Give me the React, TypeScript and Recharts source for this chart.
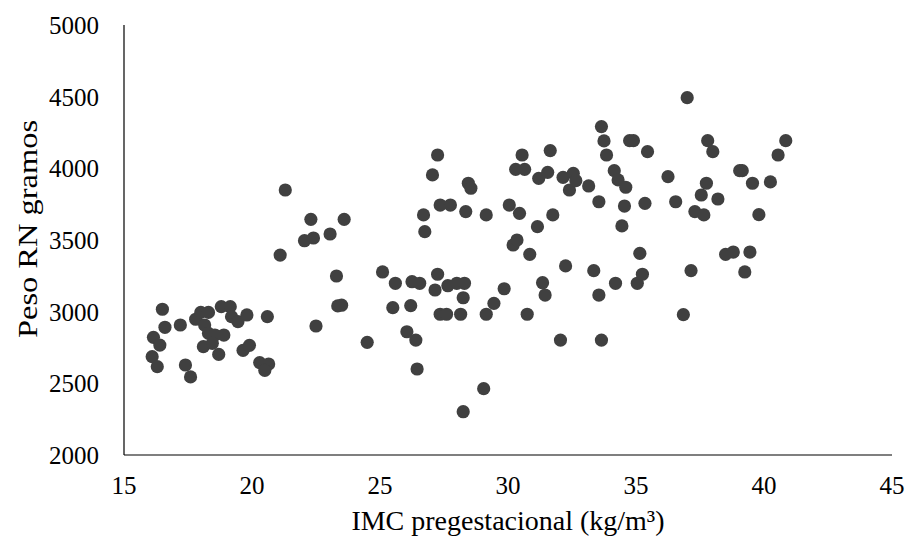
import React from "react";
import { ScatterChart, Scatter, XAxis, YAxis, Label } from "recharts";

const imcValues: number[] = [
  16.1, 16.15, 16.3, 16.4, 16.5, 16.6, 17.2, 17.4, 17.6, 17.8,
  18.0, 18.3, 18.15, 18.3, 18.55, 18.9, 18.1, 18.45, 18.7, 18.8,
  19.15, 19.2, 19.45, 19.8, 19.65, 19.9, 20.3, 20.65, 20.5, 20.6,
  21.1, 21.3, 22.05, 22.3, 22.4, 22.5, 23.05, 23.3, 23.35, 23.5,
  23.6, 24.5, 25.1, 25.5, 25.6, 26.05, 26.2, 26.25, 26.4, 26.45,
  26.55, 26.7, 26.75, 27.05, 27.15, 27.25, 27.25, 27.35, 27.35, 27.6,
  27.65, 27.75, 28.0, 28.15, 28.25, 28.25, 28.3, 28.35, 28.45, 28.55,
  29.05, 29.15, 29.15, 29.45, 29.85, 30.05, 30.2, 30.3, 30.35, 30.45,
  30.55, 30.65, 30.75, 30.85, 31.15, 31.2, 31.35, 31.45, 31.55, 31.65,
  31.75, 32.05, 32.15, 32.25, 32.4, 32.55, 32.65, 33.15, 33.35, 33.55,
  33.55, 33.65, 33.65, 33.75, 33.85, 34.15, 34.2, 34.3, 34.45, 34.55,
  34.6, 34.75, 34.9, 35.05, 35.15, 35.25, 35.35, 35.45, 36.25, 36.55,
  36.85, 37.0, 37.15, 37.3, 37.55, 37.65, 37.75, 37.8, 38.0, 38.2,
  38.5, 38.8, 39.05, 39.15, 39.25, 39.45, 39.55, 39.8, 40.25, 40.55,
  40.85,
];

const pesoValues: number[] = [
  2686, 2821, 2616, 2767, 3017, 2891, 2907, 2628, 2545, 2947,
  2995, 2995, 2907, 2849, 2837, 2837, 2756, 2779, 2702, 3035,
  3035, 2965, 2930, 2977, 2730, 2765, 2645, 2635, 2590, 2965,
  3395, 3849, 3495, 3644, 3514, 2900, 3542, 3249, 3040, 3045,
  3644, 2786, 3277, 3028, 3198, 2860, 3042, 3209, 2802, 2600,
  3198, 3675, 3558, 3954, 3151, 4093, 3261, 3744, 2982, 2982,
  3181, 3744, 3198, 2982, 3097, 2302, 3198, 3698, 3896, 3861,
  2463, 3675, 2982, 3058, 3160, 3744, 3465, 3993, 3500, 3686,
  4093, 3993, 2982, 3400, 3593, 3930, 3202, 3116, 3972, 4124,
  3675, 2802, 3937, 3319, 3849, 3965, 3914, 3877, 3286, 3767,
  3116, 4291, 2802, 4191, 4093, 3984, 3198, 3919, 3598, 3737,
  3868, 4193, 4193, 3198, 3407, 3261, 3756, 4116, 3942, 3767,
  2979, 4493, 3286, 3698, 3814, 3675, 3896, 4193, 4116, 3786,
  3400, 3416, 3984, 3984, 3277, 3416, 3896, 3677, 3905, 4093,
  4193,
];

const xTicks: number[] = [15, 20, 25, 30, 35, 40, 45];
const yTicks: number[] = [2000, 2500, 3000, 3500, 4000, 4500, 5000];
const xTitle = "IMC pregestacional (kg/m³)";
const yTitle = "Peso RN gramos";

const data = imcValues.map((x, i) => ({ x, y: pesoValues[i] }));

const FONT = "'Liberation Serif', 'Times New Roman', serif";

if (typeof document !== "undefined") {
  document.body.style.margin = "0";
}

const Dot = (props: any) => {
  const { cx, cy } = props;
  if (cx == null || cy == null) return null;
  return <circle cx={cx} cy={cy} r={6.6} fill="#404040" />;
};

export default function App() {
  return (
    <div style={{ width: 906, height: 540, background: "#fff" }}>
      <ScatterChart
        width={906}
        height={540}
        margin={{ top: 25, right: 14, bottom: 0, left: 0 }}
      >
        <XAxis
          type="number"
          dataKey="x"
          domain={[15, 45]}
          ticks={xTicks}
          interval={0}
          allowDataOverflow
          height={85}
          tickLine={false}
          tickMargin={15}
          axisLine={{ stroke: "#000", strokeWidth: 1.2 }}
          tick={{ fill: "#000", fontSize: 25, fontFamily: FONT }}
        >
          <Label
            content={() => (
              <text
                x={508}
                y={530}
                textAnchor="middle"
                fill="#000"
                fontSize={28}
                fontFamily={FONT}
              >
                {xTitle}
              </text>
            )}
          />
        </XAxis>
        <YAxis
          type="number"
          dataKey="y"
          domain={[2000, 5000]}
          ticks={yTicks}
          interval={0}
          allowDataOverflow
          width={124}
          tickLine={false}
          tickMargin={19}
          axisLine={{ stroke: "#000", strokeWidth: 1.2 }}
          tick={{ fill: "#000", fontSize: 25, fontFamily: FONT }}
        >
          <Label
            content={() => (
              <text
                x={28}
                y={229}
                transform="rotate(-90 28 229)"
                textAnchor="middle"
                dominantBaseline="central"
                fill="#000"
                fontSize={27}
                fontFamily={FONT}
                textLength={218}
                lengthAdjust="spacingAndGlyphs"
              >
                {yTitle}
              </text>
            )}
          />
        </YAxis>
        <Scatter data={data} fill="#404040" shape={Dot} isAnimationActive={false} />
      </ScatterChart>
    </div>
  );
}
